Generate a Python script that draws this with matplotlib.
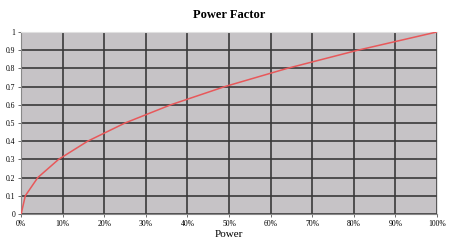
import matplotlib
matplotlib.use("Agg")
import matplotlib.pyplot as plt
from matplotlib.ticker import PercentFormatter

power = [0, 0.01, 0.04, 0.09, 0.16, 0.25, 0.36, 0.49, 0.64, 0.81, 1.0]
factor = [0, 0.1, 0.2, 0.3, 0.4, 0.5, 0.6, 0.7, 0.8, 0.9, 1.0]
xticks = [i / 10 for i in range(11)]
yticks = [i / 10 for i in range(11)]

plt.rcParams['font.family'] = ['Liberation Serif', 'DejaVu Serif']

fig = plt.figure(figsize=(4.5, 2.44), dpi=100)
ax = fig.add_axes([0.047, 0.123, 0.924, 0.746])
ax.set_facecolor('#c6c3c6')

ax.plot(power, factor, color='#e8585a', linewidth=1.1, zorder=3)

ax.set_xlim(0, 1)
ax.set_ylim(0, 1)
ax.set_xticks(xticks)
ax.set_yticks(yticks)
ax.xaxis.set_major_formatter(PercentFormatter(1.0, decimals=0))
ax.set_yticklabels(['0', '0.1', '0.2', '0.3', '0.4', '0.5', '0.6', '0.7', '0.8', '0.9', '1'])
ax.grid(True, color='#3a3a3a', linewidth=1.2, zorder=1)
ax.set_axisbelow(True)
ax.tick_params(labelsize=5.5, length=2, width=0.6, color='#555555', pad=2)
for side in ['top', 'right']:
    ax.spines[side].set_color('#e0e0e0')
for side in ['left', 'bottom']:
    ax.spines[side].set_color('#888888')
    ax.spines[side].set_linewidth(0.8)

ax.set_title('Power Factor', fontsize=9, fontweight='bold', pad=10)
ax.set_xlabel('Power', fontsize=8, labelpad=2)

fig.savefig('out.png', dpi=100, facecolor='white')
